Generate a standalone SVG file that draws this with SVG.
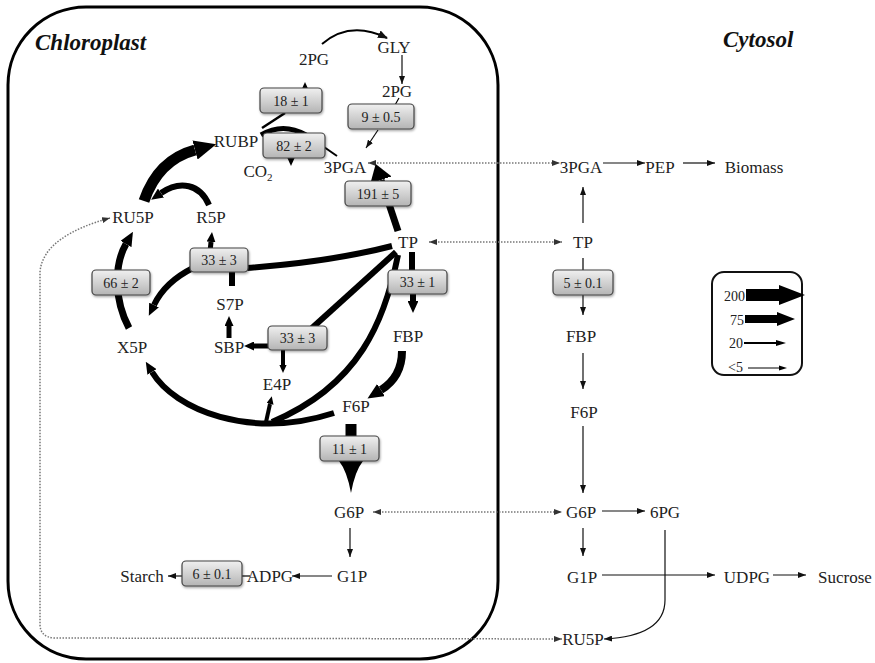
<svg xmlns="http://www.w3.org/2000/svg" width="875" height="663" viewBox="0 0 875 663">
<style>
  .n { font-family: "Liberation Serif", "DejaVu Serif", serif; font-size: 17px; fill: #222; text-anchor: middle; }
  .ttl { font-family: "Liberation Serif", "DejaVu Serif", serif; font-size: 23px; font-weight: bold; font-style: italic; fill: #111; }
  .bx rect { fill: url(#gbox); stroke: #444; stroke-width: 1.2; filter: url(#sh); }
  .bx text { font-family: "Liberation Serif", "DejaVu Serif", serif; font-size: 14px; fill: #222; text-anchor: middle; }
  .thin { fill: none; stroke: #111; stroke-width: 1.2; marker-end: url(#a1); }
  .dot { fill: none; stroke: #777; stroke-width: 1.5; stroke-dasharray: 1.5 1.5; marker-start: url(#ad); marker-end: url(#ad); }
  .tk { fill: none; stroke: #000; stroke-linecap: butt; }
  .hk { marker-end: url(#hk); }
  .hw { marker-end: url(#hw); }
  .lg text { font-family: "Liberation Serif", "DejaVu Serif", serif; font-size: 14px; fill: #222; text-anchor: end; }
</style>
<defs>
  <linearGradient id="gbox" x1="0" y1="0" x2="0" y2="1">
    <stop offset="0" stop-color="#f0f0f0"/>
    <stop offset="1" stop-color="#b4b4b4"/>
  </linearGradient>
  <filter id="sh" x="-20%" y="-20%" width="140%" height="150%">
    <feDropShadow dx="0.8" dy="1.5" stdDeviation="1" flood-color="#000" flood-opacity="0.35"/>
  </filter>
  <marker id="a1" markerUnits="userSpaceOnUse" viewBox="0 0 8 6" markerWidth="8" markerHeight="6" refX="8" refY="3" orient="auto">
    <path d="M0,0 L8,3 L0,6 z" fill="#111"/>
  </marker>
  <marker id="a2" markerUnits="userSpaceOnUse" viewBox="0 0 10 8" markerWidth="10" markerHeight="8" refX="9" refY="4" orient="auto">
    <path d="M0,0 L10,4 L0,8 z" fill="#111"/>
  </marker>
  <marker id="ad" markerUnits="userSpaceOnUse" viewBox="0 0 8 6" markerWidth="8" markerHeight="6" refX="8" refY="3" orient="auto-start-reverse">
    <path d="M0,0 L8,3 L0,6 z" fill="#333"/>
  </marker>
  <marker id="hk" viewBox="0 0 20 18" markerWidth="2" markerHeight="1.8" refX="0" refY="9" orient="auto" preserveAspectRatio="none">
    <path d="M0,0 L20,9 L0,18 z" fill="#000"/>
  </marker>
  <marker id="hw" viewBox="0 0 20 26" markerWidth="2.4" markerHeight="3.2" refX="0" refY="13" orient="auto" preserveAspectRatio="none">
    <path d="M0,0 L20,13 L0,26 z" fill="#000"/>
  </marker>
</defs>

<rect width="875" height="663" fill="#fff"/>

<g id="chloroplast">
  <rect x="8" y="7" width="490" height="652" rx="78" ry="78" fill="none" stroke="#000" stroke-width="3"/>
  <text class="ttl" x="35" y="50">Chloroplast</text>
</g>
<g id="cytosol-label">
  <text class="ttl" x="723" y="47">Cytosol</text>
</g>

<g id="connectors">
  <!-- dotted transport -->
  <path class="dot" d="M368,163 L560,163"/>
  <path class="dot" d="M429,242 L562,242"/>
  <path class="dot" d="M373,512 L562,512"/>
  <path class="dot" d="M562,639 L54,638 Q40,637 40,624 L40,272 C42,246 70,229 110,218"/>

  <!-- photorespiration -->
  <path class="tk" stroke-width="2" d="M322,44 Q350,20 387,38" marker-end="url(#a2)"/>
  <path class="thin" d="M402,55 L402,84"/>
  <path class="tk" stroke-width="1.2" d="M399,98 L395,105"/>
  <path class="thin" d="M378,130 L366,148"/>
  <path class="tk" stroke-width="2.5" d="M262,128 L285,113"/>
  <path class="tk hk" stroke-width="3" d="M305,92 L305,88"/>

  <!-- Rubisco -->
  <path class="tk" stroke-width="5" d="M261,135 Q283,122 306,135"/>
  <path class="tk hk" stroke-width="4" d="M291,150 L291,158"/>
  <path class="tk" stroke-width="2" d="M324,147 L337,156"/>

  <!-- RU5P -> RUBP, R5P -> RU5P -->
  <path class="tk hk" stroke-width="11" d="M144,201 Q158,160 195,150"/>
  <path class="tk hk" stroke-width="6" d="M209,205 C200,184 180,180 161,193"/>

  <!-- TP -> 3PGA -->
  <path class="tk hw" stroke-width="7" d="M398,231 L381,180"/>

  <!-- X5P -> RU5P -->
  <path class="tk hk" stroke-width="7" d="M129,328 C114,300 114,265 126,244"/>

  <!-- upper transketolase -->
  <path class="tk" stroke-width="6" d="M392,246 Q330,262 246,268"/>
  <path class="tk hk" stroke-width="5" d="M210,252 L211,242"/>
  <path class="tk hk" stroke-width="6" d="M193,268 Q165,282 154,305"/>
  <path class="tk" stroke-width="6" d="M232,270 L232,286"/>

  <!-- SBP -> S7P -->
  <path class="tk hk" stroke-width="5" d="M229,338 L229,326"/>

  <!-- lower aldolase -->
  <path class="tk" stroke-width="6" d="M396,252 L312,328"/>
  <path class="tk hk" stroke-width="5" d="M268,346 L254,346"/>
  <path class="tk hk" stroke-width="4" d="M283,350 L283,365"/>

  <!-- TP -> FBP -->
  <path class="tk" stroke-width="6" d="M412,252 L412,272"/>
  <path class="tk hk" stroke-width="6" d="M413,290 L413,301"/>

  <!-- TP -> junction, bottom arc, junction -> E4P -->
  <path class="tk" stroke-width="6" d="M398,255 C385,320 360,385 272,422"/>
  <path class="tk hk" stroke-width="6" d="M334,413 C250,440 175,410 152,372"/>
  <path class="tk hk" stroke-width="4" d="M266,422 L270,404"/>

  <!-- FBP -> F6P -->
  <path class="tk hk" stroke-width="8" d="M402,351 C402,372 392,383 381,390"/>

  <!-- F6P -> G6P -->
  <path class="tk" stroke-width="11" d="M351,424 L351,442"/>
  <path d="M339,461 L363,461 Q355,471 351,493 Q347,471 339,461 Z" fill="#000"/>

  <!-- starch branch -->
  <path class="thin" d="M350,528 L350,557"/>
  <path class="thin" d="M332,576 L292,576"/>
  <path class="tk" stroke-width="1.2" d="M250,576 L242,576"/>
  <path class="thin" d="M182,576 L168,576"/>

  <!-- cytosol -->
  <path class="thin" d="M603,163 L645,163"/>
  <path class="thin" d="M683,163 L715,163"/>
  <path class="thin" d="M583,223 L583,187"/>
  <path class="tk" stroke-width="1.2" d="M583,258 L583,270"/>
  <path class="thin" d="M583,295 L583,315"/>
  <path class="thin" d="M583,353 L583,389"/>
  <path class="thin" d="M583,426 L583,493"/>
  <path class="thin" d="M602,511 L645,511"/>
  <path class="thin" d="M583,528 L583,556"/>
  <path class="thin" d="M602,575 L715,575"/>
  <path class="thin" d="M773,575 L806,575"/>
  <path class="thin" d="M665,530 L665,600 Q665,636 604,639"/>
</g>

<g id="n-2PG-a"><text class="n" x="314" y="65">2PG</text></g>
<g id="n-GLY"><text class="n" x="394" y="53">GLY</text></g>
<g id="n-2PG-b"><text class="n" x="397" y="97">2PG</text></g>
<g id="n-RUBP"><text class="n" x="236" y="147">RUBP</text></g>
<g id="n-CO2"><text class="n" x="258" y="177">CO<tspan font-size="11" dy="4">2</tspan></text></g>
<g id="n-3PGA-c"><text class="n" x="345" y="173">3PGA</text></g>
<g id="n-RU5P-c"><text class="n" x="133" y="223">RU5P</text></g>
<g id="n-R5P"><text class="n" x="211" y="223">R5P</text></g>
<g id="n-TP-c"><text class="n" x="408" y="248">TP</text></g>
<g id="n-S7P"><text class="n" x="230" y="310">S7P</text></g>
<g id="n-X5P"><text class="n" x="132" y="353">X5P</text></g>
<g id="n-SBP"><text class="n" x="229" y="353">SBP</text></g>
<g id="n-FBP-c"><text class="n" x="408" y="342">FBP</text></g>
<g id="n-E4P"><text class="n" x="277" y="390">E4P</text></g>
<g id="n-F6P-c"><text class="n" x="356" y="412">F6P</text></g>
<g id="n-G6P-c"><text class="n" x="349" y="518">G6P</text></g>
<g id="n-G1P-c"><text class="n" x="352" y="582">G1P</text></g>
<g id="n-ADPG"><text class="n" x="270" y="582">ADPG</text></g>
<g id="n-Starch"><text class="n" x="142" y="582">Starch</text></g>

<g id="n-3PGA-y"><text class="n" x="581" y="173">3PGA</text></g>
<g id="n-PEP"><text class="n" x="660" y="173">PEP</text></g>
<g id="n-Biomass"><text class="n" x="754" y="173">Biomass</text></g>
<g id="n-TP-y"><text class="n" x="583" y="248">TP</text></g>
<g id="n-FBP-y"><text class="n" x="581" y="342">FBP</text></g>
<g id="n-F6P-y"><text class="n" x="584" y="418">F6P</text></g>
<g id="n-G6P-y"><text class="n" x="581" y="518">G6P</text></g>
<g id="n-6PG"><text class="n" x="665" y="518">6PG</text></g>
<g id="n-G1P-y"><text class="n" x="582" y="583">G1P</text></g>
<g id="n-UDPG"><text class="n" x="747" y="583">UDPG</text></g>
<g id="n-Sucrose"><text class="n" x="845" y="583">Sucrose</text></g>
<g id="n-RU5P-y"><text class="n" x="583" y="645">RU5P</text></g>

<g id="f-18" class="bx"><rect x="260" y="88" width="62" height="25" rx="4"/><text x="291" y="106">18 ± 1</text></g>
<g id="f-9" class="bx"><rect x="348" y="104" width="66" height="25" rx="4"/><text x="381" y="122">9 ± 0.5</text></g>
<g id="f-82" class="bx"><rect x="263" y="133" width="62" height="25" rx="4"/><text x="294" y="151">82 ± 2</text></g>
<g id="f-191" class="bx"><rect x="345" y="181" width="66" height="25" rx="4"/><text x="378" y="199">191 ± 5</text></g>
<g id="f-33a" class="bx"><rect x="190" y="248" width="58" height="24" rx="4"/><text x="219" y="265">33 ± 3</text></g>
<g id="f-66" class="bx"><rect x="92" y="270" width="58" height="25" rx="4"/><text x="121" y="288">66 ± 2</text></g>
<g id="f-33b" class="bx"><rect x="388" y="270" width="59" height="24" rx="4"/><text x="417.5" y="287">33 ± 1</text></g>
<g id="f-33c" class="bx"><rect x="268" y="326" width="59" height="24" rx="4"/><text x="297.5" y="343">33 ± 3</text></g>
<g id="f-11" class="bx"><rect x="320" y="436" width="59" height="25" rx="4"/><text x="349.5" y="454">11 ± 1</text></g>
<g id="f-6" class="bx"><rect x="182" y="561" width="60" height="25" rx="4"/><text x="212" y="579">6 ± 0.1</text></g>
<g id="f-5" class="bx"><rect x="553" y="270" width="60" height="25" rx="4"/><text x="583" y="288">5 ± 0.1</text></g>

<g id="legend" class="lg">
  <rect x="712" y="272" width="90" height="103" rx="12" fill="none" stroke="#111" stroke-width="2"/>
  <text x="745" y="301">200</text>
  <path d="M746,289 L779,289 L779,285 L805,295 L779,305 L779,301 L746,301 Z" fill="#000"/>
  <text x="744" y="325">75</text>
  <path d="M745,315 L777,315 L777,312 L795,319 L777,326 L777,323 L745,323 Z" fill="#000"/>
  <text x="743" y="348">20</text>
  <path d="M744,343 L778,343" stroke="#000" stroke-width="2"/>
  <path d="M776,340 L786,343 L776,346 Z" fill="#000"/>
  <text x="743" y="372">&lt;5</text>
  <path d="M748,368 L781,368" stroke="#000" stroke-width="1"/>
  <path d="M779,365.5 L787,368 L779,370.5 Z" fill="#000"/>
</g>
</svg>
